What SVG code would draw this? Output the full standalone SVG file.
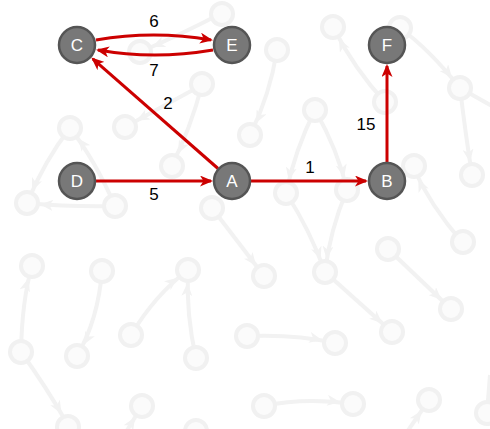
<svg xmlns="http://www.w3.org/2000/svg" width="490" height="429" viewBox="0 0 490 429">
  <style>
    .bg-edge { fill: none; stroke: #f2f2f2; stroke-width: 4; marker-end: url(#bgArrow); }
    .bg-line { fill: none; stroke: #f2f2f2; stroke-width: 4; }
    .bg-node { fill: #fbfbfb; stroke: #f1f1f1; stroke-width: 4; }
    .edge { fill: none; stroke: #cc0000; stroke-width: 3; marker-end: url(#redArrow); }
    .node circle { fill: #787878; stroke: #555555; stroke-width: 2.5; }
    .node text { fill: #ffffff; font-family: "Liberation Sans", Arial, sans-serif; font-size: 17px; text-anchor: middle; }
    .label { fill: #000000; font-family: "Liberation Sans", Arial, sans-serif; font-size: 17px; text-anchor: middle; }
  </style>
  <defs>
    <marker id="redArrow" markerUnits="userSpaceOnUse" markerWidth="13" markerHeight="11" refX="11" refY="5.5" orient="auto">
      <path d="M0,0 L13,5.5 L0,11 L3.5,5.5 z" fill="#cc0000"/>
    </marker>
    <marker id="bgArrow" markerUnits="userSpaceOnUse" markerWidth="13" markerHeight="11" refX="26" refY="5.5" orient="auto">
      <path d="M0,0 L13,5.5 L0,11 L3.5,5.5 z" fill="#f2f2f2"/>
    </marker>
  </defs>

  <rect width="490" height="429" fill="#ffffff"/>

  <!-- faint background graph -->
  <g id="backdrop">
    <g id="backdrop-edges">
      <path class="bg-edge" d="M21,352 Q22,300 32,266"/>
      <path class="bg-edge" d="M102,271 Q98,320 77,356"/>
      <path class="bg-edge" d="M131,335 Q155,295 188,270"/>
      <path class="bg-edge" d="M196,358 Q186,315 188,270"/>
      <path class="bg-edge" d="M21,352 Q45,385 68,425"/>
      <path class="bg-edge" d="M118,445 L142,406"/>
      <path class="bg-edge" d="M212,208 L264,276"/>
      <path class="bg-edge" d="M286,193 Q310,230 325,272"/>
      <path class="bg-edge" d="M347,190 Q330,230 325,272"/>
      <path class="bg-edge" d="M325,272 L392,332"/>
      <path class="bg-edge" d="M388,249 L451,309"/>
      <path class="bg-edge" d="M462,242 Q430,205 413,167"/>
      <path class="bg-edge" d="M248,336 Q295,334 335,343"/>
      <path class="bg-edge" d="M264,406 Q305,397 353,404"/>
      <path class="bg-edge" d="M398,445 L429,400"/>
      <path class="bg-line" d="M487,413 L490,375"/>
      <path class="bg-edge" d="M460,88 Q465,130 472,175"/>
      <path class="bg-edge" d="M400,28 Q430,50 460,88"/>
      <path class="bg-line" d="M460,88 L492,106"/>
      <path class="bg-edge" d="M385,102 Q355,70 333,27"/>
      <path class="bg-edge" d="M315,110 Q295,150 286,193"/>
      <path class="bg-edge" d="M315,110 Q338,150 347,190"/>
      <path class="bg-edge" d="M277,50 Q270,95 250,135"/>
      <path class="bg-edge" d="M202,85 L125,127"/>
      <path class="bg-edge" d="M202,85 Q190,130 172,165"/>
      <path class="bg-edge" d="M70,128 Q45,160 27,203"/>
      <path class="bg-edge" d="M115,206 Q95,160 70,128"/>
      <path class="bg-edge" d="M115,206 Q70,207 27,203"/>
      <path class="bg-edge" d="M222,13 Q180,35 140,52"/>
    </g>
    <g id="backdrop-nodes">
      <circle class="bg-node" cx="32" cy="266" r="11"/>
      <circle class="bg-node" cx="102" cy="271" r="11"/>
      <circle class="bg-node" cx="188" cy="270" r="11"/>
      <circle class="bg-node" cx="21" cy="352" r="11"/>
      <circle class="bg-node" cx="77" cy="356" r="11"/>
      <circle class="bg-node" cx="131" cy="335" r="11"/>
      <circle class="bg-node" cx="196" cy="358" r="11"/>
      <circle class="bg-node" cx="142" cy="406" r="11"/>
      <circle class="bg-node" cx="68" cy="427" r="11"/>
      <circle class="bg-node" cx="196" cy="431" r="11"/>
      <circle class="bg-node" cx="247" cy="336" r="11"/>
      <circle class="bg-node" cx="264" cy="276" r="11"/>
      <circle class="bg-node" cx="325" cy="272" r="11"/>
      <circle class="bg-node" cx="388" cy="249" r="11"/>
      <circle class="bg-node" cx="463" cy="242" r="11"/>
      <circle class="bg-node" cx="451" cy="309" r="11"/>
      <circle class="bg-node" cx="392" cy="332" r="11"/>
      <circle class="bg-node" cx="335" cy="343" r="11"/>
      <circle class="bg-node" cx="264" cy="406" r="11"/>
      <circle class="bg-node" cx="353" cy="404" r="11"/>
      <circle class="bg-node" cx="429" cy="400" r="11"/>
      <circle class="bg-node" cx="487" cy="413" r="11"/>
      <circle class="bg-node" cx="222" cy="14" r="11"/>
      <circle class="bg-node" cx="140" cy="52" r="11"/>
      <circle class="bg-node" cx="277" cy="50" r="11"/>
      <circle class="bg-node" cx="202" cy="84" r="11"/>
      <circle class="bg-node" cx="333" cy="27" r="11"/>
      <circle class="bg-node" cx="400" cy="28" r="11"/>
      <circle class="bg-node" cx="460" cy="88" r="11"/>
      <circle class="bg-node" cx="385" cy="102" r="11"/>
      <circle class="bg-node" cx="472" cy="175" r="11"/>
      <circle class="bg-node" cx="414" cy="166" r="11"/>
      <circle class="bg-node" cx="315" cy="110" r="11"/>
      <circle class="bg-node" cx="286" cy="193" r="11"/>
      <circle class="bg-node" cx="347" cy="190" r="11"/>
      <circle class="bg-node" cx="250" cy="135" r="11"/>
      <circle class="bg-node" cx="212" cy="208" r="11"/>
      <circle class="bg-node" cx="172" cy="166" r="11"/>
      <circle class="bg-node" cx="125" cy="127" r="11"/>
      <circle class="bg-node" cx="70" cy="128" r="11"/>
      <circle class="bg-node" cx="27" cy="203" r="11"/>
      <circle class="bg-node" cx="115" cy="206" r="11"/>
    </g>
  </g>

  <!-- weighted edges -->
  <g id="edges">
    <path class="edge" d="M96,40 Q154,30 211,40"/>
    <path class="edge" d="M213,50 Q154,60 98,50"/>
    <path class="edge" d="M218,168.5 L92.8,58.8"/>
    <path class="edge" d="M96,181 L211,181"/>
    <path class="edge" d="M251,181 L366,181"/>
    <path class="edge" d="M387,162 L387,66"/>
  </g>

  <g id="node-C" class="node"><circle cx="77" cy="45" r="18"/><text x="77" y="51">C</text></g>
  <g id="node-E" class="node"><circle cx="232" cy="45" r="18"/><text x="232" y="51">E</text></g>
  <g id="node-F" class="node"><circle cx="387" cy="45" r="18"/><text x="387" y="51">F</text></g>
  <g id="node-D" class="node"><circle cx="77" cy="181" r="18"/><text x="77" y="187">D</text></g>
  <g id="node-A" class="node"><circle cx="232" cy="181" r="18"/><text x="232" y="187">A</text></g>
  <g id="node-B" class="node"><circle cx="387" cy="181" r="18"/><text x="387" y="187">B</text></g>

  <g id="edge-labels">
    <text class="label" x="154" y="27">6</text>
    <text class="label" x="154" y="76">7</text>
    <text class="label" x="168" y="109">2</text>
    <text class="label" x="154" y="200">5</text>
    <text class="label" x="310" y="173">1</text>
    <text class="label" x="366" y="130">15</text>
  </g>
</svg>
